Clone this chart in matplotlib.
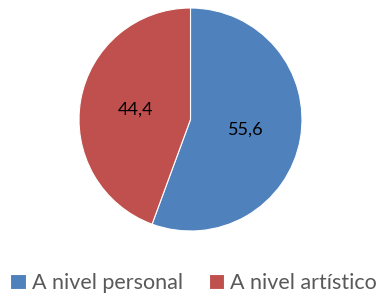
import matplotlib
matplotlib.use("Agg")
import matplotlib.pyplot as plt

categories = ["A nivel personal", "A nivel artístico"]
values = [55.6, 44.4]
colors = ["#4F81BD", "#C0504D"]

plt.rcParams["font.family"] = ["Lato", "DejaVu Sans"]

fig = plt.figure(figsize=(3.8, 2.96), dpi=100)
ax = fig.add_axes([79 / 380, 65 / 296, 223 / 380, 223 / 296])

wedges, texts = ax.pie(
    values,
    colors=colors,
    startangle=90,
    counterclock=False,
    labels=[f"{v:.1f}".replace(".", ",") for v in values],
    labeldistance=0.5,
    wedgeprops=dict(edgecolor="white", linewidth=0.8),
    textprops=dict(fontsize=13, color="black", ha="center", va="center"),
)
ax.set_xlim(-1, 1)
ax.set_ylim(-1, 1)
ax.set_aspect("equal")

fig.legend(
    wedges, categories,
    loc="center", bbox_to_anchor=(0.51, 1 - 283 / 296),
    ncol=2, frameon=False, fontsize=15.5,
    handlelength=0.7, handleheight=0.7, handletextpad=0.3, columnspacing=1.2,
    labelcolor="#595959",
)

fig.savefig("out.png", dpi=100)
